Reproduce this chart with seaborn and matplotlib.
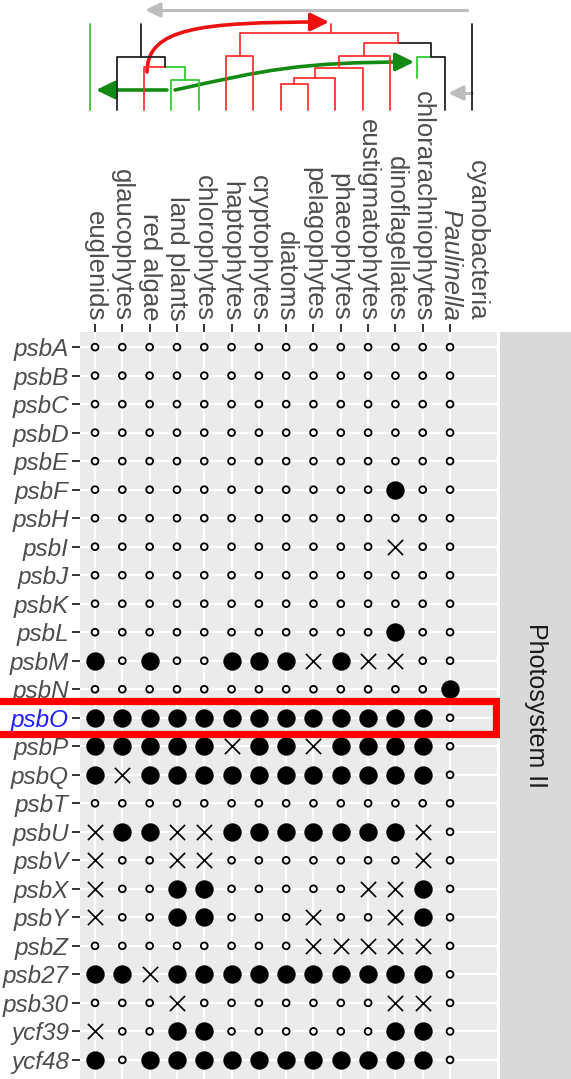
import numpy as np
import pandas as pd
import matplotlib
matplotlib.use("Agg")
import matplotlib.pyplot as plt
from matplotlib.patches import Rectangle, FancyArrowPatch
from matplotlib.path import Path
import seaborn as sns

organisms = ["euglenids", "glaucophytes", "red algae", "land plants", "chlorophytes",
             "haptophytes", "cryptophytes", "diatoms", "pelagophytes", "phaeophytes",
             "eustigmatophytes", "dinoflagellates", "chlorarachniophytes", "Paulinella"]
outgroup = "cyanobacteria"
genes = ["psbA", "psbB", "psbC", "psbD", "psbE", "psbF", "psbH", "psbI", "psbJ",
         "psbK", "psbL", "psbM", "psbN", "psbO", "psbP", "psbQ", "psbT", "psbU",
         "psbV", "psbX", "psbY", "psbZ", "psb27", "psb30", "ycf39", "ycf48"]
# o = small open circle, F = large filled circle, x = cross (one char per organism)
status = ["oooooooooooooo", "oooooooooooooo", "oooooooooooooo", "oooooooooooooo",
          "oooooooooooooo", "oooooooooooFoo", "oooooooooooooo", "oooooooooooxoo",
          "oooooooooooooo", "oooooooooooooo", "oooooooooooFoo", "FoFooFFFxFxxoo",
          "oooooooooooooF", "FFFFFFFFFFFFFo", "FFFFFxFFxFFFFo", "FxFFFFFFFFFFFo",
          "oooooooooooooo", "xFFxxFFFFFFFxo", "xooxxoooooooxo", "xooFFoooooxxFo",
          "xooFFoooxooxFo", "ooooooooxxxxxo", "FFxFFFFFFFFFFo", "oooxoooooooxxo",
          "xooFFooooooFFo", "FoFFFFFFFFFFFo"]
highlight = "psbO"
panel_label = "Photosystem II"

rows = []
for gi, (g, s) in enumerate(zip(genes, status)):
    for oi, (o, c) in enumerate(zip(organisms, s)):
        rows.append({"gene": g, "organism": o, "x": oi + 1, "y": gi + 1, "state": c})
df = pd.DataFrame(rows)

sns.set_theme(style="darkgrid", rc={"axes.facecolor": "#ebebeb", "grid.color": "white"})
plt.rcParams["font.family"] = ["Liberation Sans", "DejaVu Sans"]

W, H = 571, 1079
fig = plt.figure(figsize=(W / 100, H / 100), dpi=100)

# pixel helpers for layout
def fx(px): return px / W
def fy(px): return 1 - px / H

pl, pr, pt = 80, 497, 332
ax = fig.add_axes([fx(pl), 0, fx(pr) - fx(pl), fy(pt)])
xlim = (0.45, 15.72)
ax.set_xlim(*xlim)
ax.set_ylim(26.67, 0.47)
ax.set_axisbelow(True)
ax.grid(True, color="white", linewidth=1.6)
for sp in ax.spines.values():
    sp.set_visible(False)

sns.scatterplot(data=df[df.state == "o"], x="x", y="y", marker="o", s=24,
                facecolor="none", edgecolor="black", linewidth=1.3, ax=ax, zorder=3)
sns.scatterplot(data=df[df.state == "F"], x="x", y="y", marker="o", s=175,
                color="black", edgecolor="black", linewidth=0, ax=ax, zorder=3)
sns.scatterplot(data=df[df.state == "x"], x="x", y="y", marker="x", s=120,
                color="black", linewidth=1.2, ax=ax, zorder=3)
ax.set_xlabel("")
ax.set_ylabel("")

ax.set_xticks(range(1, len(organisms) + 2))
ax.set_xticklabels(organisms + [outgroup])
ax.set_yticks(range(1, len(genes) + 1))
ax.set_yticklabels(genes)
ax.tick_params(axis="x", top=True, bottom=False, labeltop=True, labelbottom=False,
               labelrotation=270, length=6, width=1.4, color="#333333",
               labelcolor="#4d4d4d", labelsize=18.5, pad=2)
ax.tick_params(axis="y", left=True, length=6, width=1.4, color="#333333",
               labelcolor="#4d4d4d", labelsize=17.5, pad=2)
for lab in ax.get_xticklabels():
    lab.set_verticalalignment("bottom")
ax.get_xticklabels()[organisms.index("Paulinella")].set_fontstyle("italic")
last = ax.xaxis.get_major_ticks()[len(organisms)]
last.tick2line.set_visible(False)
last.tick1line.set_visible(False)
last.gridline.set_visible(False)
for lab in ax.get_yticklabels():
    lab.set_fontstyle("italic")
    if lab.get_text() == highlight:
        lab.set_color("#1f1fff")

# highlight box
hy = genes.index(highlight) + 1
u = lambda px: 1 + (px - 95) / 27.3
ax.add_patch(Rectangle((-3, hy - 0.58), u(496) + 3, 1.16, fill=False,
                       edgecolor="#ff0000", linewidth=5.2, clip_on=False, zorder=10))

# facet strip
sax = fig.add_axes([fx(500), 0, 1 - fx(500), fy(pt)])
sax.set_facecolor("#d9d9d9")
sax.grid(False)
sax.set_xticks([]); sax.set_yticks([])
for sp in sax.spines.values():
    sp.set_visible(False)
sax.text(0.5, 0.5, panel_label, rotation=270, ha="center", va="center",
         fontsize=18, color="#1a1a1a", transform=sax.transAxes)

# tree on top
tax = fig.add_axes([fx(pl), fy(130), fx(pr) - fx(pl), 130 / H])
tax.set_xlim(*xlim)
tax.set_ylim(130, 0)
tax.axis("off")

R, G, K = "#ff3333", "#33cc33", "#222222"
leaf_bottom, top_y = 110, 24
pos = {o: (i + 1 - 0.2) for i, o in enumerate(organisms + [outgroup])}
merges = [  # name, left, right, height, left colour, right colour, node x override
    ("plants", "land plants", "chlorophytes", 80, G, G, None),
    ("archae", "red algae", "plants", 67, R, G, None),
    ("glauco", "glaucophytes", "archae", 57, K, K, None),
    ("dp", "diatoms", "pelagophytes", 84, R, R, None),
    ("dpp", "dp", "phaeophytes", 78, R, R, None),
    ("dppe", "dpp", "eustigmatophytes", 68, R, R, None),
    ("stram", "dppe", "dinoflagellates", 56, R, R, None),
    ("rhiz", "chlorarachniophytes", "Paulinella", 57, G, K, None),
    ("sar", "stram", "rhiz", 43, R, K, None),
    ("hc", "haptophytes", "cryptophytes", 56, R, R, None),
    ("red", "hc", "sar", 33, R, R, u(331)),
]
leaf_end = {"chlorarachniophytes": 78}
lw = 1.3
for name, a, b, h, ca, cb, xo in merges:
    xa, xb = pos[a], pos[b]
    xn = xo if xo is not None else (xa + xb) / 2
    pos[name] = xn
    tax.plot([xa, xn], [h, h], color=ca, lw=lw, solid_capstyle="butt")
    tax.plot([xn, xb], [h, h], color=cb, lw=lw, solid_capstyle="butt")
    for child, col in ((a, ca), (b, cb)):
        bottom = next((m[3] for m in merges if m[0] == child), None)
        if bottom is None:
            bottom = leaf_end.get(child, leaf_bottom)
        tax.plot([pos[child], pos[child]], [h, bottom], color=col, lw=lw)
for name, col in (("glauco", K), ("red", R)):
    h = next(m[3] for m in merges if m[0] == name)
    tax.plot([pos[name], pos[name]], [top_y, h], color=col, lw=lw)
tax.plot([pos["euglenids"]] * 2, [top_y, leaf_bottom], color=G, lw=lw)
tax.plot([pos[outgroup]] * 2, [top_y, leaf_bottom], color=K, lw=lw)

def arrow(verts, color, lw, hl, hw, codes=None):
    path = Path(verts, codes)
    p = FancyArrowPatch(path=path, arrowstyle=f"-|>,head_length={hl},head_width={hw}",
                        mutation_scale=20, color=color, lw=lw,
                        transform=tax.transData, clip_on=False)
    tax.add_patch(p)

C4 = [Path.MOVETO, Path.CURVE4, Path.CURVE4, Path.CURVE4]
arrow([(u(467), 10), (u(145), 10)], "#bdbdbd", 2.2, 0.45, 0.22)
arrow([(u(147), 72), (u(147), 28), (u(200), 22), (u(329), 22)], "#ee1111", 2.6, 0.55, 0.27, C4)
arrow([(u(175), 90), (u(265), 70), (u(300), 62), (u(414), 62)], "#138a13", 2.6, 0.55, 0.27, C4)
arrow([(u(167), 90), (u(96), 90)], "#138a13", 2.6, 0.55, 0.27)
arrow([(u(472), 93), (u(448), 93)], "#bdbdbd", 2.2, 0.45, 0.22)

fig.savefig("out.png", dpi=100)
